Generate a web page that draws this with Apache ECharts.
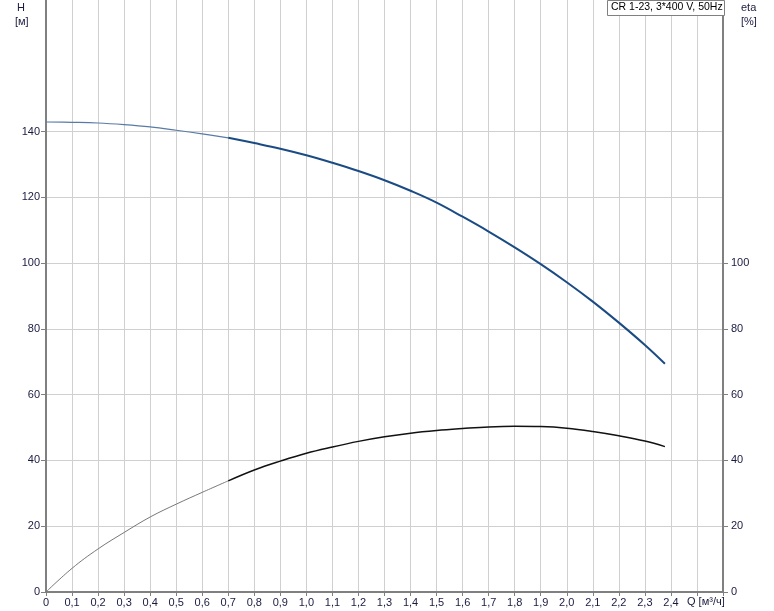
<!DOCTYPE html>
<html><head><meta charset="utf-8">
<script src="https://cdn.jsdelivr.net/npm/echarts@6/dist/echarts.min.js"></script>
<style>html,body{margin:0;padding:0;background:#fff}#c{width:774px;height:611px}</style>
</head><body><div id="c"></div>
<script>
const qPts = [0, 0.1, 0.2, 0.3, 0.4, 0.5, 0.6, 0.7, 0.8, 0.9, 1.0, 1.1, 1.2, 1.3, 1.4, 1.5, 1.6, 1.7, 1.8, 1.9, 2.0, 2.1, 2.2, 2.3, 2.377];
const hVals = [142.9, 142.8, 142.6, 142.1, 141.4, 140.4, 139.3, 138.1, 136.5, 134.8, 132.8, 130.5, 128.0, 125.2, 122.0, 118.4, 114.1, 109.6, 104.8, 99.7, 94.2, 88.3, 81.9, 75.1, 69.4];
const etaVals = [0, 7.2, 13.1, 18.1, 22.8, 26.7, 30.3, 33.8, 37.1, 39.8, 42.2, 44.1, 45.8, 47.2, 48.3, 49.1, 49.7, 50.2, 50.4, 50.3, 49.8, 48.8, 47.5, 45.9, 44.2];
const hTicks = [0, 20, 40, 60, 80, 100, 120, 140];
const etaTicks = [0, 20, 40, 60, 80, 100];
const splitQ = 0.7;
const legendText = 'CR 1-23, 3*400 V, 50Hz';

function pairs(xs, ys, lo, hi) {
  const out = [];
  for (let i = 0; i < xs.length; i++) if (xs[i] >= lo - 1e-9 && xs[i] <= hi) out.push([xs[i], ys[i]]);
  return out;
}
const font = 'Liberation Sans, Arial, sans-serif';
const txt = '#1a1a40';
const chart = echarts.init(document.getElementById('c'));
const sm = {smooth: 0.4, symbol: 'none', type: 'line'};
chart.setOption({
  animation: false,
  grid: {left: 46, right: 51, top: 0, bottom: 19, containLabel: false},
  xAxis: {
    type: 'value', min: 0, max: 2.6, interval: 0.1,
    axisLine: {lineStyle: {color: '#808080', width: 2}},
    axisTick: {show: true, length: 4, lineStyle: {color: '#808080'}},
    splitLine: {lineStyle: {color: '#d0d0d0', width: 1}},
    axisLabel: {fontFamily: font, fontSize: 11, color: txt, margin: 5,
      formatter: v => { const r = Math.round(v * 10) / 10; if (r > 2.45) return ''; return r === 0 ? '0' : r.toFixed(1).replace('.', ','); }}
  },
  yAxis: [{
    type: 'value', min: 0, max: 180, interval: 20, position: 'left',
    axisLine: {show: true, lineStyle: {color: '#808080', width: 2}},
    axisTick: {show: true, length: 5, customValues: hTicks, lineStyle: {color: '#808080'}},
    splitLine: {lineStyle: {color: '#d0d0d0', width: 1}},
    axisLabel: {fontFamily: font, fontSize: 11, color: txt, margin: 6, customValues: hTicks}
  }, {
    type: 'value', min: 0, max: 180, interval: 20, position: 'right',
    axisLine: {show: true, lineStyle: {color: '#808080', width: 2}},
    axisTick: {show: true, length: 5, customValues: etaTicks, lineStyle: {color: '#808080'}},
    splitLine: {show: false},
    axisLabel: {fontFamily: font, fontSize: 11, color: txt, margin: 8, customValues: etaTicks}
  }],
  series: [
    Object.assign({}, sm, {data: pairs(qPts, hVals, 0, splitQ), lineStyle: {color: '#5a7aa6', width: 1.2}}),
    Object.assign({}, sm, {data: pairs(qPts, hVals, splitQ, 9), lineStyle: {color: '#1b4b84', width: 2}}),
    Object.assign({}, sm, {yAxisIndex: 1, data: pairs(qPts, etaVals, 0, splitQ), lineStyle: {color: '#777', width: 1}}),
    Object.assign({}, sm, {yAxisIndex: 1, data: pairs(qPts, etaVals, splitQ, 9), lineStyle: {color: '#111', width: 1.5}})
  ],
  graphic: [
    {type: 'text', left: 17, top: 2, style: {text: 'H', font: '11px ' + font, fill: txt}},
    {type: 'text', left: 15, top: 16, style: {text: '[м]', font: '11px ' + font, fill: txt}},
    {type: 'text', left: 741, top: 2, style: {text: 'eta', font: '11px ' + font, fill: txt}},
    {type: 'text', left: 741, top: 16, style: {text: '[%]', font: '11px ' + font, fill: txt}},
    {type: 'text', left: 687, top: 596, style: {text: 'Q [м³/ч]', font: '11px ' + font, fill: txt}},
    {type: 'rect', shape: {x: 607.5, y: 0.5, width: 117, height: 15}, style: {fill: '#fff', stroke: '#808080', lineWidth: 1}, z: 10},
    {type: 'text', x: 611, y: 2, z: 11, style: {text: legendText, font: '10.5px ' + font, fill: '#000'}}
  ]
});
</script></body></html>
